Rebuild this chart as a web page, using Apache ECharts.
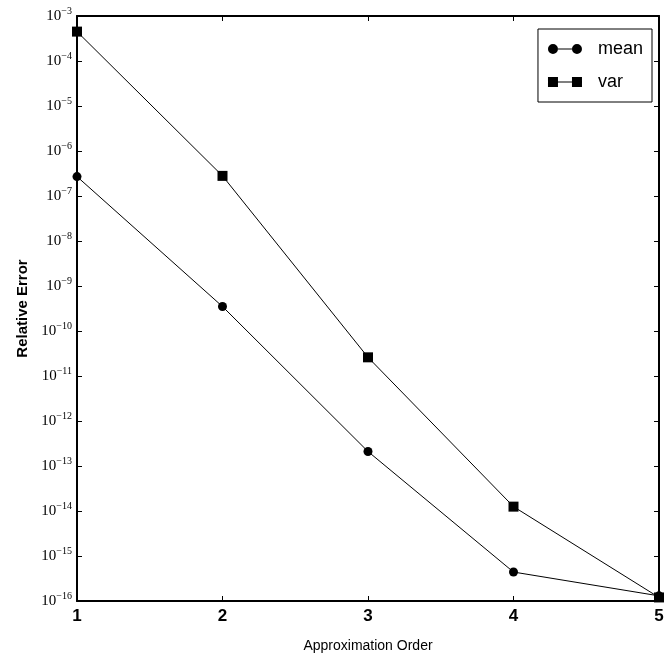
<!DOCTYPE html>
<html>
<head>
<meta charset="utf-8">
<script src="https://cdn.jsdelivr.net/npm/echarts@6/dist/echarts.min.js"></script>
<style>html,body{margin:0;padding:0;background:#fff}#c{width:667px;height:658px}</style>
</head>
<body>
<div id="c"></div>
<script>
const orders = [1, 2, 3, 4, 5];
const meanErr = [2.7e-7, 3.5e-10, 2.1e-13, 4.4e-16, 1.3e-16];
const varErr = [4.5e-4, 2.8e-7, 2.6e-11, 1.25e-14, 1.2e-16];
const yExpMin = -16, yExpMax = -3;

const chart = echarts.init(document.getElementById('c'));
const narrow = "'Liberation Sans Narrow','Liberation Sans',Arial,sans-serif";
const circlePath = 'path://M0,5A5,5 0 1,1 10,5A5,5 0 1,1 0,5Z M10,4.4L24,4.4L24,5.6L10,5.6Z M24,5A5,5 0 1,1 34,5A5,5 0 1,1 24,5Z';
const squarePath = 'path://M0,0L10,0L10,10L0,10Z M10,4.4L24,4.4L24,5.6L10,5.6Z M24,0L34,0L34,10L24,10Z';

function pairs(vals) { return orders.map((o, i) => [o, vals[i]]); }

const axisLineStyle = { lineStyle: { color: '#000', width: 2 } };
chart.setOption({
  animation: false,
  backgroundColor: '#fff',
  grid: { left: 77, right: 8, top: 16, bottom: 48 },
  legend: {
    orient: 'vertical', right: 15, top: 29,
    padding: [11, 9, 11, 10], itemGap: 15,
    itemWidth: 34, itemHeight: 10,
    borderColor: '#000', borderWidth: 1,
    textStyle: { fontFamily: narrow, fontSize: 18, color: '#000', padding: [0, 0, 0, 11] },
    data: [{ name: 'mean', icon: circlePath }, { name: 'var', icon: squarePath }]
  },
  xAxis: [{
    type: 'value', min: 1, max: 5, interval: 1,
    name: 'Approximation Order', nameLocation: 'middle', nameGap: 38,
    nameTextStyle: { fontFamily: narrow, fontSize: 14, color: '#000' },
    axisLine: axisLineStyle,
    axisTick: { inside: true, length: 5, lineStyle: { color: '#000' } },
    axisLabel: { fontFamily: narrow, fontSize: 17, fontWeight: 'bold', color: '#000', margin: 7 },
    splitLine: { show: false }
  }, {
    type: 'value', min: 1, max: 5, interval: 1, position: 'top',
    axisLine: axisLineStyle,
    axisTick: { inside: true, length: 5, lineStyle: { color: '#000' } },
    axisLabel: { show: false }, splitLine: { show: false }
  }],
  yAxis: [{
    type: 'log', logBase: 10, min: Math.pow(10, yExpMin), max: Math.pow(10, yExpMax), interval: 1,
    name: 'Relative Error', nameLocation: 'middle', nameGap: 44,
    nameTextStyle: { fontFamily: "'Liberation Sans',Arial,sans-serif", fontWeight: 'bold', fontSize: 15, color: '#000' },
    axisLine: axisLineStyle,
    axisTick: { inside: true, length: 5, lineStyle: { color: '#000' } },
    axisLabel: {
      margin: 5, color: '#000',
      formatter: v => '{b|10}{s|\u2212' + Math.abs(Math.round(Math.log10(v))) + '}',
      rich: {
        b: { fontFamily: "'Liberation Serif','DejaVu Serif',serif", fontSize: 15, color: '#000' },
        s: { fontFamily: "'Liberation Serif','DejaVu Serif',serif", fontSize: 10, color: '#000', padding: [0, 0, 9, 0] }
      }
    },
    splitLine: { show: false }
  }, {
    type: 'log', logBase: 10, min: Math.pow(10, yExpMin), max: Math.pow(10, yExpMax), interval: 1, position: 'right',
    axisLine: axisLineStyle,
    axisTick: { inside: true, length: 5, lineStyle: { color: '#000' } },
    axisLabel: { show: false }, splitLine: { show: false }
  }],
  series: [{
    name: 'mean', type: 'line', data: pairs(meanErr),
    symbol: 'circle', symbolSize: 9,
    itemStyle: { color: '#000' }, lineStyle: { color: '#000', width: 1 }
  }, {
    name: 'var', type: 'line', data: pairs(varErr),
    symbol: 'rect', symbolSize: 10,
    itemStyle: { color: '#000' }, lineStyle: { color: '#000', width: 1 }
  }]
});
</script>
</body>
</html>
